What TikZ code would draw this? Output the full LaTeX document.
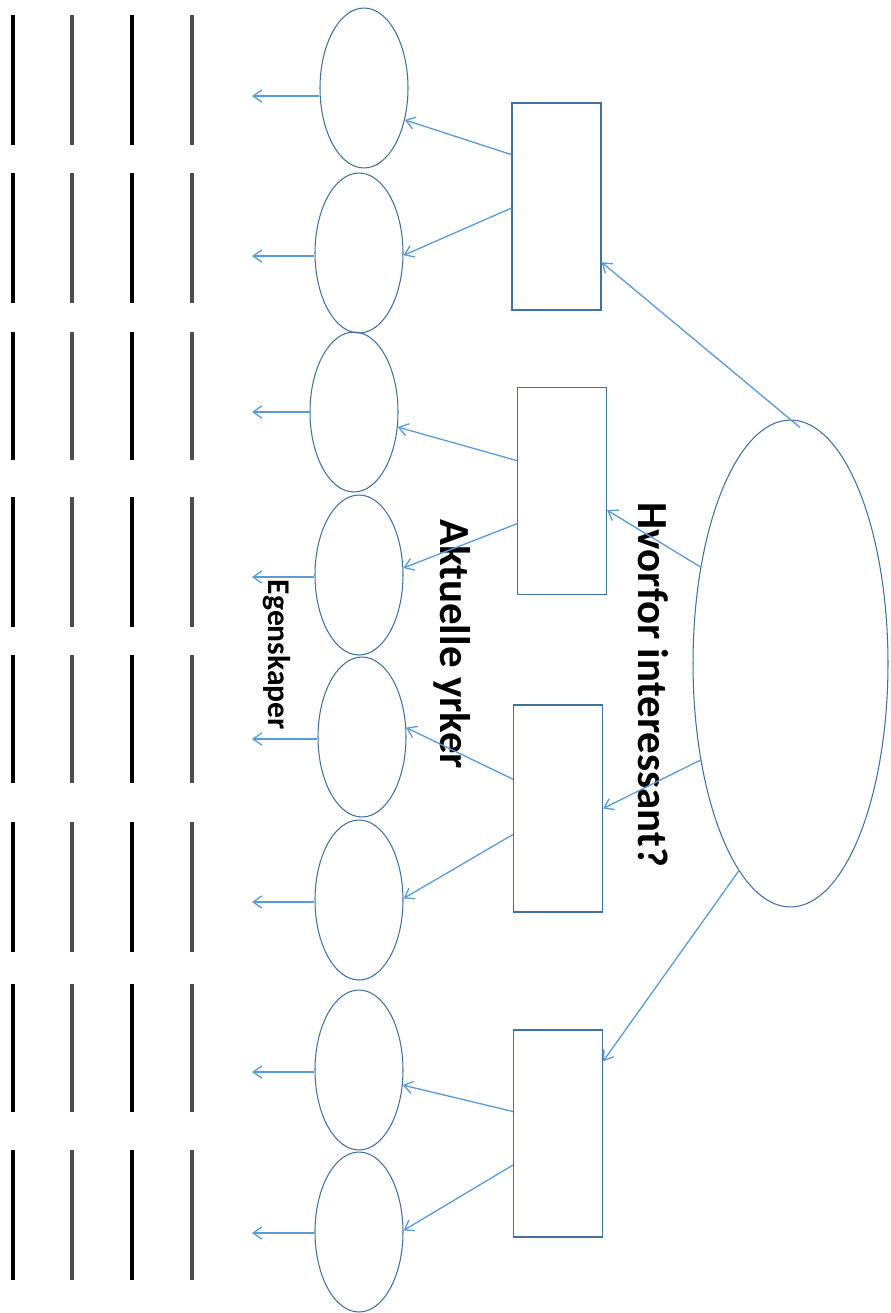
\documentclass[tikz,border=0pt]{standalone}
\usepackage{fontspec}
\setmainfont{Carlito}
\usepackage{tikz}
\usetikzlibrary{shapes.geometric, arrows.meta, positioning}
\definecolor{outlineblue}{RGB}{65,113,156}
\definecolor{arrowblue}{RGB}{91,155,213}
\tikzset{
    bigellipse/.style={ellipse, draw=outlineblue, line width=0.6pt, minimum width=3.9cm, minimum height=9.74cm, inner sep=0pt},
    smallellipse/.style={ellipse, draw=outlineblue, line width=0.6pt, minimum width=1.76cm, minimum height=3.2cm, inner sep=0pt},
    box/.style={rectangle, draw=outlineblue, line width=0.7pt, minimum width=1.78cm, minimum height=4.14cm, inner sep=0pt},
    heading/.style={rotate=-90, inner sep=0pt, font=\bfseries\fontsize{24.4}{29}\selectfont},
    arrow/.style={draw=arrowblue, line width=0.75pt, -{Straight Barb[length=5pt, width=7pt]}},
    darkbar/.style={line width=1.8pt, black},
    greybar/.style={line width=2.2pt, black!70}
}

\begin{document}
\begin{tikzpicture}[x=0.02cm, y=-0.02cm]
    \useasboundingbox (0,0) rectangle (890,1313);

    % Write-in lines (left)
    \foreach \top/\bottom in {15/145, 173/303, 332/460, 497/627, 655/783, 822/952, 984/1112, 1150/1280} {
        \draw[darkbar] (13,\top) -- (13,\bottom);
        \draw[greybar] (72,\top) -- (72,\bottom);
        \draw[darkbar] (132,\top) -- (132,\bottom);
        \draw[greybar] (192,\top) -- (192,\bottom);
    }

    % Main topic (right)
    \node[bigellipse] (topic) at (790.5,663.5) {};

    % Occupations
    \node[box] (yrke_1) at (556.5,206.5) {};
    \node[box] (yrke_2) at (562,491) {};
    \node[box] (yrke_3) at (558,808.5) {};
    \node[box] (yrke_4) at (558,1133.5) {};

    % Properties, with free arrows to the left
    \foreach \i/\x/\y/\ay in {1/364/88/96, 2/359/253/256, 3/354/412/412, 4/359/575/577, 5/362/737/739, 6/359/900/902, 7/359/1070/1072, 8/359/1232/1233} {
        \node[smallellipse] (egenskap_\i) at (\x,\y) {};
        \coordinate (ut_\i) at (252,\ay);
        \draw[arrow] (egenskap_\i.west |- ut_\i) -- (ut_\i);
    }

    % Labels
    \node[heading] (why_text) at (653,685) {Hvorfor interessant?};
    \node[heading] (jobs_text) at (452,644) {Aktuelle yrker};
    \node[rotate=-90, inner sep=0pt, font=\bfseries\fontsize{18}{21}\selectfont] (props_text) at (277,655) {Egenskaper};

    % Topic -> occupations
    \draw[arrow, shorten <=-0.25cm] (topic.north) -- (yrke_1.-51.9);
    \draw[arrow] (topic.133.5) -- (yrke_2.-23.4);
    \draw[arrow] (topic.227.3) -- (yrke_3.east);
    \draw[arrow] (topic.256.3) -- (yrke_4.58.5);

    % Occupations -> properties
    \draw[arrow] (yrke_1.131.9) -- (egenskap_1.-38);
    \draw[arrow] (yrke_1.182) -- (egenskap_2.-3);
    \draw[arrow] (yrke_2.146.6) -- (egenskap_3.-19);
    \draw[arrow] (yrke_2.216) -- (egenskap_4.9);
    \draw[arrow] (yrke_3.147.7) -- (egenskap_5.12);
    \draw[arrow] (yrke_3.210.5) -- (egenskap_6.2);
    \draw[arrow] (yrke_4.154.5) -- (egenskap_7.-19);
    \draw[arrow] (yrke_4.215) -- (egenskap_8.2);
\end{tikzpicture}
\end{document}
